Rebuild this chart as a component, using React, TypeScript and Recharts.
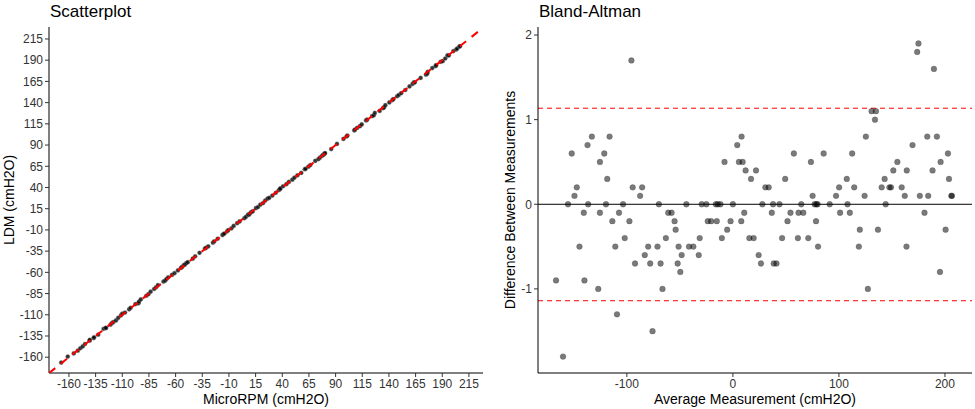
import React from 'react';
import { ScatterChart, Scatter, XAxis, YAxis, ReferenceLine } from 'recharts';

// Bland-Altman: average measurement (cmH2O) and difference between measurements
const baAverage = [
  -166.8, -160.2, -155.5, -152.0, -149.4, -147.2, -144.7, -140.6, -140.0, -137.1,
  -136.5, -133.0, -127.0, -125.4, -125.4, -121.3, -119.7, -118.5, -116.3, -113.7,
  -110.9, -109.3, -107.4, -103.6, -102.0, -97.6, -95.7, -94.5, -92.3, -87.5,
  -85.6, -83.1, -79.9, -78.0, -75.8, -71.1, -69.8, -68.2, -66.4, -63.2,
  -61.0, -57.8, -55.0, -54.0, -52.1, -51.2, -49.6, -48.3, -43.9, -41.4,
  -37.3, -32.2, -31.3, -29.4, -25.0, -23.7, -20.5, -16.1, -15.2, -14.2,
  -11.7, -10.4, -7.9, -5.4, -2.2, 0.0, 4.1, 5.7, 7.9, 8.2,
  9.2, 10.7, 12.0, 15.5, 17.1, 19.6, 21.8, 24.3, 26.5, 27.8,
  30.6, 33.8, 36.7, 37.9, 38.5, 41.1, 43.9, 46.4, 49.3, 51.5,
  54.3, 57.5, 61.3, 61.9, 64.5, 66.4, 71.1, 73.6, 75.2, 77.1,
  78.4, 78.7, 79.9, 80.3, 85.6, 91.3, 97.3, 100.2, 101.1, 107.4,
  108.1, 110.3, 112.5, 114.4, 118.8, 119.7, 124.2, 125.4, 127.3, 130.8,
  134.0, 134.9, 136.8, 140.3, 143.1, 144.1, 147.6, 149.1, 151.3, 155.1,
  159.2, 162.1, 163.7, 164.0, 169.4, 173.8, 175.0, 176.3, 180.7, 183.3,
  184.2, 188.3, 189.6, 192.4, 195.3, 195.9, 200.6, 202.8, 203.8, 206.0,
  206.6,
];
const baDifference = [
  -0.9, -1.8, 0, 0.6, 0.1, 0.2, -0.5, -0.1, -0.9, 0.7,
  0, 0.8, -1.0, 0.5, -0.1, 0.6, 0, 0.3, 0.8, -0.2,
  -0.5, -1.3, -0.1, 0, -0.4, -0.2, 1.7, 0.2, -0.7, 0.1,
  0.2, -0.6, -0.5, -0.7, -1.5, -0.5, 0, -0.7, -1.0, -0.4,
  -0.1, -0.1, -0.2, -0.3, -0.7, -0.5, -0.8, -0.6, 0, -0.5,
  -0.5, -0.6, -0.4, 0, 0, -0.2, -0.2, 0, -0.2, 0,
  0, -0.4, 0.5, -0.3, -0.2, 0, 0.7, 0.5, -0.2, 0.8,
  0.5, -0.1, 0.4, -0.4, 0.3, -0.4, 0.4, -0.6, -0.7, 0,
  0.2, 0.2, -0.1, 0, -0.7, -0.7, 0, -0.4, 0.3, -0.2,
  -0.1, 0.6, -0.4, -0.1, 0, -0.1, -0.4, 0.5, 0.1, 0,
  -0.2, 0, 0, -0.5, 0.6, 0, 0.1, 0.2, -0.1, 0.3,
  0, -0.1, 0.6, 0.2, -0.5, -0.3, 0.1, 0.8, -1.0, 1.1,
  1.0, 1.1, -0.3, 0.2, 0.3, 0, 0.2, 0.2, 0.4, 0.5,
  0.2, 0.1, -0.5, 0.4, 0.7, 1.8, 1.9, 0.1, -0.1, 0.8,
  0.1, 0.4, 1.6, 0.8, -0.8, 0.5, -0.3, 0.6, 0.3, 0.1,
  0.1,
];
const upperLimit = 1.135;
const lowerLimit = -1.14;

const scatterTicks = [-160, -135, -110, -85, -60, -35, -10, 15, 40, 65, 90, 115, 140, 165, 190, 215];
const baXTicks = [-100, 0, 100, 200];
const baYTicks = [-1, 0, 1, 2];
const scatterXDomain = [-178.7, 228.2];
const scatterYDomain = [-178.6, 229.1];
const baXDomain = [-183.8, 225.5];
const baYDomain = [-1.994, 2.095];

// tables built from the arrays
const baData = baAverage.map((a, i) => ({ x: a, y: baDifference[i] }));
const scatterData = baAverage.map((a, i) => ({ x: a + baDifference[i] / 2, y: a - baDifference[i] / 2 }));
const identityLine = [
  { x: scatterXDomain[0], y: scatterXDomain[0] },
  { x: scatterXDomain[1], y: scatterXDomain[1] },
];

const FONT = '"Liberation Sans", Arial, Helvetica, sans-serif';
const tickStyle = { fill: '#333', fontSize: 12, fontFamily: FONT };
const axisLine = { stroke: '#000', strokeWidth: 1 };
const tickLine = { stroke: '#333', strokeWidth: 1 };

const BADot = (p: any) => (
  <circle cx={p.cx} cy={p.cy} r={2.9} fill="#000" fillOpacity={0.52} stroke="#000" strokeOpacity={0.25} strokeWidth={0.6} />
);
const SmallDot = (p: any) => (
  <circle cx={p.cx} cy={p.cy} r={2.1} fill="#000" fillOpacity={0.8} stroke="#888" strokeOpacity={0.5} strokeWidth={0.8} />
);

export default function App() {
  return (
    <div style={{ position: 'absolute', left: 0, top: 0, width: 975, height: 409, background: '#fff', fontFamily: FONT }}>
      <div style={{ position: 'absolute', left: 0, top: 0 }}>
        <ScatterChart width={490} height={409} margin={{ top: 27, right: 7, bottom: 6, left: 0 }}>
          <XAxis
            type="number"
            dataKey="x"
            domain={scatterXDomain}
            ticks={scatterTicks}
            allowDataOverflow
            height={30}
            tickSize={4}
            tick={tickStyle}
            axisLine={axisLine}
            tickLine={tickLine}
            interval={0}
          />
          <YAxis
            type="number"
            dataKey="y"
            domain={scatterYDomain}
            ticks={scatterTicks}
            allowDataOverflow
            width={49}
            tickSize={4}
            tick={tickStyle}
            axisLine={axisLine}
            tickLine={tickLine}
            interval={0}
          />
          <Scatter data={scatterData} shape={SmallDot} isAnimationActive={false} />
          <Scatter
            data={identityLine}
            line={{ stroke: '#ff0000', strokeWidth: 2, strokeDasharray: '8 7' }}
            shape={() => null}
            isAnimationActive={false}
          />
        </ScatterChart>
      </div>
      <div style={{ position: 'absolute', left: 490, top: 0 }}>
        <ScatterChart width={485} height={409} margin={{ top: 27, right: 3, bottom: 6, left: 0 }}>
          <XAxis
            type="number"
            dataKey="x"
            domain={baXDomain}
            ticks={baXTicks}
            allowDataOverflow
            height={30}
            tickSize={4}
            tick={tickStyle}
            axisLine={axisLine}
            tickLine={tickLine}
          />
          <YAxis
            type="number"
            dataKey="y"
            domain={baYDomain}
            ticks={baYTicks}
            allowDataOverflow
            width={48}
            tickSize={4}
            tick={tickStyle}
            axisLine={axisLine}
            tickLine={tickLine}
          />
          <Scatter data={baData} shape={BADot} isAnimationActive={false} />
          <ReferenceLine y={0} stroke="#000" strokeWidth={1} />
          <ReferenceLine y={upperLimit} stroke="#ff0000" strokeWidth={1} strokeDasharray="5 4" />
          <ReferenceLine y={lowerLimit} stroke="#ff0000" strokeWidth={1} strokeDasharray="5 4" />
        </ScatterChart>
      </div>
      <svg width={975} height={409} style={{ position: 'absolute', left: 0, top: 0, pointerEvents: 'none' }}>
        <text x={50} y={17} fontSize={17} fontFamily={FONT} fill="#000">Scatterplot</text>
        <text x={539} y={17} fontSize={17} fontFamily={FONT} fill="#000">Bland-Altman</text>
        <text x={266} y={404} fontSize={14} fontFamily={FONT} fill="#000" textAnchor="middle">MicroRPM (cmH2O)</text>
        <text x={755} y={404} fontSize={14} fontFamily={FONT} fill="#000" textAnchor="middle">Average Measurement (cmH2O)</text>
        <text x={14} y={200} fontSize={14} fontFamily={FONT} fill="#000" textAnchor="middle" transform="rotate(-90 14 200)">LDM (cmH2O)</text>
        <text x={515} y={200} fontSize={14} fontFamily={FONT} fill="#000" textAnchor="middle" transform="rotate(-90 515 200)">Difference Between Measurements</text>
      </svg>
    </div>
  );
}
